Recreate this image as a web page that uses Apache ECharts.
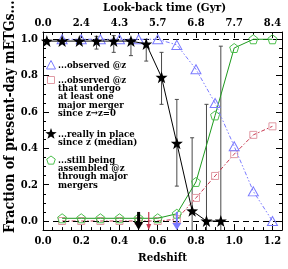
<!DOCTYPE html>
<html><head><meta charset="utf-8">
<script src="https://cdn.jsdelivr.net/npm/echarts@6/dist/echarts.min.js"></script>
<style>html,body{margin:0;padding:0;background:#fff}#c{width:288px;height:269px}</style>
</head><body><div id="c"></div>
<script>
// ---- data ----
const zTicks = [0, 0.2, 0.4, 0.6, 0.8, 1.0, 1.2];
const zTickLabels = ['0.0', '0.2', '0.4', '0.6', '0.8', '1.0', '1.2'];
const lookbackLabels = ['0.0', '2.4', '4.3', '5.7', '6.8', '7.7', '8.4'];
const zMinorTicks = [0.05,0.1,0.15,0.25,0.3,0.35,0.45,0.5,0.55,0.65,0.7,0.75,0.85,0.9,0.95,1.05,1.1,1.15,1.25];
const yTicks = [0, 0.2, 0.4, 0.6, 0.8, 1.0];
const yTickLabels = ['0.0', '0.2', '0.4', '0.6', '0.8', '1.0'];
const yMinorTicks = [-0.05,0.05,0.1,0.15,0.25,0.3,0.35,0.45,0.5,0.55,0.65,0.7,0.75,0.85,0.9,0.95];

const zGrid = [0.1, 0.2, 0.3, 0.4, 0.5, 0.6, 0.7, 0.8, 0.9, 1.0, 1.1, 1.2];
const fObserved = [1.0, 1.0, 1.0, 1.0, 1.0, 1.0, 0.969, 0.835, 0.649, 0.411, 0.163, 0.0];
const fMerger = [0.0, 0.0, 0.0, 0.0, 0.0, 0.0, 0.01, 0.127, 0.248, 0.368, 0.474, 0.521];
const fAssembling = [0.015, 0.015, 0.015, 0.015, 0.015, 0.015, 0.04, 0.215, 0.581, 0.952, 1.0, 1.0];

const zStar = [0.02, 0.10, 0.19, 0.28, 0.37, 0.46, 0.54, 0.62, 0.70, 0.78, 0.855, 0.93];
const fInPlace = [0.99, 0.99, 0.99, 0.99, 0.99, 0.99, 0.974, 0.791, 0.428, 0.056, 0.0, 0.0];
const errLow = [null, null, null, 0.946, 0.928, 0.91, 0.88, 0.642, 0.192, -0.1, -0.1, -0.1];
const errHigh = [null, null, null, 1.016, 1.02, 1.0, 1.0, 0.928, 0.669, 0.458, 0.642, 0.962];

const arrowZ = [0.5, 0.553, 0.70];
const arrowTop = [0.05, 0.05, 0.05];
const arrowBottom = [-0.05, -0.05, -0.05];

// ---- styles ----
const FONT = '"DejaVu Serif Condensed", "DejaVu Serif", serif';
const BLUE = '#7b7bff', PINK = '#e09aa4', RED = '#c8364e', GREEN_S = '#4cbf4c', GREEN_L = '#1e9a1e';
const PENT = 'path://M0,-10 L9.51,-3.09 L5.88,8.09 L-5.88,8.09 L-9.51,-3.09 Z';
const STAR = 'path://M0,-10 L2.35,-3.24 L9.51,-3.09 L3.80,1.24 L5.88,8.09 L0,4 L-5.88,8.09 L-3.80,1.24 L-9.51,-3.09 L-2.35,-3.24 Z';

function starPts(cx, cy, r) {
  const pts = [];
  for (let k = 0; k < 10; k++) {
    const a = -Math.PI / 2 + k * Math.PI / 5;
    const rr = k % 2 === 0 ? r : r * 0.4;
    pts.push([cx + rr * Math.cos(a), cy + rr * Math.sin(a)]);
  }
  return pts;
}
function pentPts(cx, cy, r) {
  const pts = [];
  for (let k = 0; k < 5; k++) {
    const a = -Math.PI / 2 + k * 2 * Math.PI / 5;
    pts.push([cx + r * Math.cos(a), cy + r * Math.sin(a)]);
  }
  return pts;
}

const zip = (a, b) => a.map((v, i) => [v, b[i]]);
const chart = echarts.init(document.getElementById('c'), null, {renderer: 'canvas'});

function xAx(pos, labels, minor, name, gap, pad) {
  const ax = {
    type: 'value', position: pos, min: 0, max: 1.25, splitLine: {show: false},
    axisLine: {show: !minor, onZero: false, lineStyle: {color: '#000', width: 1}},
    axisTick: {show: true, inside: true, length: minor ? 3 : 6, customValues: minor ? zMinorTicks : zTicks, lineStyle: {color: '#000'}},
    axisLabel: labels ? {show: true, customValues: zTicks, margin: pos === 'top' ? 3.5 : 6, color: '#000', fontFamily: FONT, fontWeight: 'bold', fontSize: 11,
      formatter: v => labels[zTicks.findIndex(t => Math.abs(t - v) < 1e-6)]} : {show: false}
  };
  if (name) {
    ax.name = name; ax.nameLocation = 'middle'; ax.nameGap = gap;
    ax.nameTextStyle = {color: '#000', fontFamily: FONT, fontWeight: 'bold', fontSize: 11.5, padding: pad};
  }
  return ax;
}
function yAx(pos, labels, minor) {
  return {
    type: 'value', position: pos, min: -0.05, max: 1.04, splitLine: {show: false},
    axisLine: {show: !minor, onZero: false, lineStyle: {color: '#000', width: 1}},
    axisTick: {show: true, inside: true, length: minor ? 3 : 6, customValues: minor ? yMinorTicks : yTicks, lineStyle: {color: '#000'}},
    axisLabel: labels ? {show: true, customValues: yTicks, margin: 5, color: '#000', fontFamily: FONT, fontWeight: 'bold', fontSize: 11,
      formatter: v => labels[yTicks.findIndex(t => Math.abs(t - v) < 1e-6)]} : {show: false}
  };
}

const errData = zStar.map((z, i) => [z, errLow[i], errHigh[i]]).filter(d => d[1] !== null);
const arrowData = arrowZ.map((z, i) => [z, arrowTop[i], arrowBottom[i], i]);
const arrowStyles = [
  {color: '#000', shaft: 3, head: 9, hl: 8},
  {color: RED, shaft: 1.2, head: 5, hl: 6},
  {color: BLUE, shaft: 2, head: 9, hl: 7}
];
const txt = (text, x, y, size, extra) => ({type: 'text', x: x, y: y, style: Object.assign({text: text, font: 'bold ' + size + 'px ' + FONT, fill: '#000'}, extra || {})});

const option = {
  animation: false,
  backgroundColor: '#fff',
  grid: {left: 43, right: 6, top: 32, bottom: 38, containLabel: false},
  xAxis: [
    xAx('bottom', zTickLabels, false, 'Redshift', 19, [0, 0, 0, 0]),
    xAx('bottom', null, true),
    xAx('top', lookbackLabels, false),
    xAx('top', null, true)
  ],
  yAxis: [yAx('left', yTickLabels, false), yAx('left', null, true), yAx('right', null, false), yAx('right', null, true)],
  series: [
    {
      type: 'line', data: zip(zGrid, fObserved), symbol: 'none', z: 2,
      lineStyle: {color: '#000', width: 0},
      markLine: {silent: true, symbol: 'none', label: {show: false},
        lineStyle: {color: '#000', type: [6, 4], width: 1},
        data: [{yAxis: 0}, {yAxis: 1}]}
    },
    {
      type: 'custom', clip: true, z: 3,
      renderItem: (params, api) => {
        const p1 = api.coord([api.value(0), api.value(1)]);
        const p2 = api.coord([api.value(0), api.value(2)]);
        const st = {stroke: '#4a4a4a', lineWidth: 1};
        return {type: 'group', children: [
          {type: 'line', shape: {x1: p1[0], y1: p1[1], x2: p2[0], y2: p2[1]}, style: st},
          {type: 'line', shape: {x1: p1[0] - 2, y1: p1[1], x2: p1[0] + 2, y2: p1[1]}, style: st},
          {type: 'line', shape: {x1: p2[0] - 2, y1: p2[1], x2: p2[0] + 2, y2: p2[1]}, style: st}
        ]};
      },
      data: errData
    },
    {
      type: 'line', data: zip(zGrid, fMerger), symbol: 'rect', symbolSize: 7, z: 4,
      lineStyle: {color: RED, width: 1, type: [4, 2, 1.5, 2]},
      itemStyle: {color: 'rgba(0,0,0,0)', borderColor: PINK, borderWidth: 1}
    },
    {
      type: 'line', data: zip(zGrid, fAssembling), symbol: PENT, symbolSize: 9, z: 5,
      lineStyle: {color: GREEN_L, width: 1},
      itemStyle: {color: 'rgba(0,0,0,0)', borderColor: GREEN_S, borderWidth: 1}
    },
    {
      type: 'line', data: zip(zGrid, fObserved), symbol: 'triangle', symbolSize: [10, 9], z: 6,
      lineStyle: {color: BLUE, width: 1, type: [4, 2, 1.5, 2, 1.5, 2]},
      itemStyle: {color: 'rgba(0,0,0,0)', borderColor: BLUE, borderWidth: 1}
    },
    {
      type: 'line', data: zip(zStar, fInPlace), symbol: STAR, symbolSize: 12, z: 7,
      lineStyle: {color: '#000', width: 1},
      itemStyle: {color: '#000'}
    },
    {
      type: 'custom', clip: true, z: 8,
      renderItem: (params, api) => {
        const s = arrowStyles[api.value(3)];
        const p1 = api.coord([api.value(0), api.value(1)]);
        const p2 = api.coord([api.value(0), api.value(2)]);
        return {type: 'group', children: [
          {type: 'line', shape: {x1: p1[0], y1: p1[1], x2: p2[0], y2: p2[1] - s.hl + 1}, style: {stroke: s.color, lineWidth: s.shaft}},
          {type: 'polygon', shape: {points: [[p2[0] - s.head / 2, p2[1] - s.hl], [p2[0] + s.head / 2, p2[1] - s.hl], [p2[0], p2[1]]]}, style: {fill: s.color}}
        ]};
      },
      data: arrowData
    }
  ],
  graphic: [
    txt('Look-back time (Gyr)', 103, 8, 11.5, {align: 'left', verticalAlign: 'middle'}),
    Object.assign(txt('Fraction of present-day mETGs...', 10, 233, 14, {align: 'left', verticalAlign: 'middle'}), {rotation: Math.PI / 2}),
    // legend
    {type: 'polygon', shape: {points: [[51, 60.5], [55.5, 69], [46.5, 69]]}, style: {fill: 'none', stroke: BLUE, lineWidth: 1}},
    txt('...observed @z', 58, 65.5, 9.5, {verticalAlign: 'middle'}),
    {type: 'rect', shape: {x: 47.5, y: 76.5, width: 7, height: 7}, style: {fill: 'none', stroke: PINK, lineWidth: 1}},
    txt('...observed @z\nthat undergo\nat least one\nmajor merger\nsince z→z=0', 58, 76, 9.5, {lineHeight: 8.4, verticalAlign: 'top'}),
    {type: 'polygon', shape: {points: starPts(51, 134, 6)}, style: {fill: '#000'}},
    txt('...really in place\nsince z (median)', 58, 130, 9.5, {lineHeight: 8.4, verticalAlign: 'top'}),
    {type: 'polygon', shape: {points: pentPts(51, 160.5, 4.5)}, style: {fill: 'none', stroke: GREEN_S, lineWidth: 1}},
    txt('...still being\nassembled @z\nthrough major\nmergers', 58, 156, 9.5, {lineHeight: 8.4, verticalAlign: 'top'})
  ]
};
chart.setOption(option);
</script></body></html>
